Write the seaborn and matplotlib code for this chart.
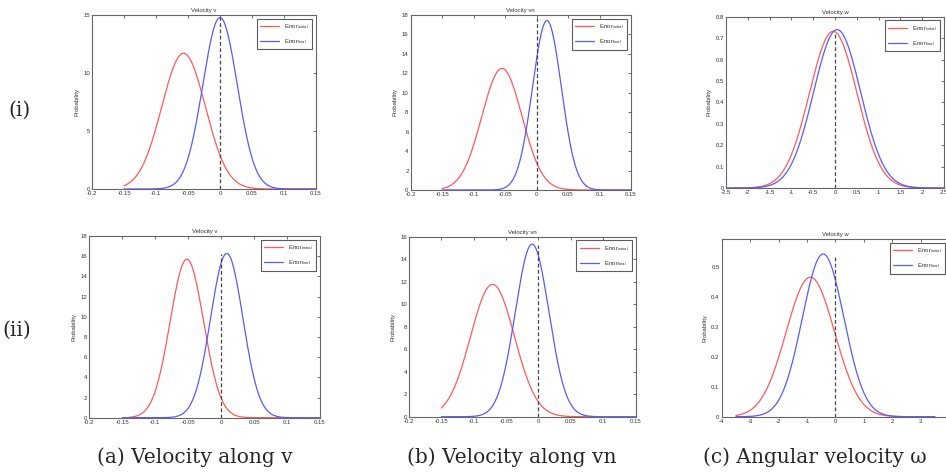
import numpy as np
import pandas as pd
import matplotlib
matplotlib.use("Agg")
import matplotlib.pyplot as plt
import seaborn as sns
from matplotlib.ticker import FuncFormatter

# Panel order: row (i) then row (ii); columns v, vn, w
titles = ["Velocity v", "Velocity vn", "Velocity w",
          "Velocity v", "Velocity vn", "Velocity w"]

# Gaussian error distributions: means and standard deviations
init_mean = [-0.057, -0.055, -0.04, -0.052, -0.071, -0.88]
init_std = [0.0341, 0.0319, 0.545, 0.0254, 0.0339, 0.854]
final_mean = [0.0, 0.0165, 0.05, 0.0085, -0.0098, -0.43]
final_std = [0.0270, 0.0229, 0.539, 0.0245, 0.0260, 0.732]

# Sampled range of each curve
init_range = [(-0.15, 0.15), (-0.15, 0.15), (-2.5, 2.5),
              (-0.14, 0.09), (-0.15, 0.08), (-3.5, 3.5)]
final_range = [(-0.15, 0.15), (-0.15, 0.15), (-2.5, 2.5),
               (-0.15, 0.15), (-0.15, 0.15), (-3.5, 3.5)]

# Height of the dashed zero-error marker
zero_line_top = [14.8, 17.7, 0.73, 16.2, 15.3, 0.54]

# Axis limits and ticks
xlims = [(-0.2, 0.15), (-0.2, 0.15), (-2.5, 2.5),
         (-0.2, 0.15), (-0.2, 0.15), (-4, 4)]
xticks = [np.arange(-0.2, 0.151, 0.05)] * 2 + [np.arange(-2.5, 2.51, 0.5)] + \
         [np.arange(-0.2, 0.151, 0.05)] * 2 + [np.arange(-4, 3.1, 1)]
ylims = [(0, 15), (0, 18), (0, 0.8), (0, 18), (0, 16), (0, 0.595)]
yticks = [[0, 5, 10, 15], np.arange(0, 18.1, 2), np.arange(0, 0.81, 0.1),
          np.arange(0, 18.1, 2), np.arange(0, 16.1, 2), np.arange(0, 0.51, 0.1)]

row_labels = ["(i)", "(ii)"]
captions = ["(a) Velocity along v", "(b) Velocity along vn", "(c) Angular velocity ω"]

# Axes rectangles in figure fraction [left, bottom, width, height]
rects = [
    [0.0973, 0.6004, 0.2368, 0.3680],
    [0.4341, 0.5983, 0.2329, 0.3700],
    [0.7674, 0.6025, 0.2304, 0.3620],
    [0.0944, 0.1169, 0.2439, 0.3841],
    [0.4323, 0.1190, 0.2396, 0.3805],
    [0.7629, 0.1190, 0.2403, 0.3757],
]

sns.set_theme(style="white")
plt.rcParams["font.family"] = ["Liberation Sans", "DejaVu Sans"]
plt.rcParams["mathtext.fontset"] = "custom"
plt.rcParams["mathtext.rm"] = "Liberation Sans"

RED = "#ff5a5a"
BLUE = "#5a5aff"
FS = 4.3


def gauss(x, mu, sd):
    return np.exp(-0.5 * ((x - mu) / sd) ** 2) / (sd * np.sqrt(2 * np.pi))


def fmt(v, _):
    s = "%g" % round(v, 4)
    return "0" if s in ("-0", "0") else s


fig = plt.figure(figsize=(9.46, 4.73), dpi=100)

for i in range(6):
    ax = fig.add_axes(rects[i])
    xi = np.linspace(*init_range[i], 400)
    xf = np.linspace(*final_range[i], 400)
    df = pd.concat([
        pd.DataFrame({"x": xi, "p": gauss(xi, init_mean[i], init_std[i]),
                      "curve": r"Error$_{\mathrm{initial}}$"}),
        pd.DataFrame({"x": xf, "p": gauss(xf, final_mean[i], final_std[i]),
                      "curve": r"Error$_{\mathrm{final}}$"}),
    ])
    sns.lineplot(data=df, x="x", y="p", hue="curve", palette=[RED, BLUE],
                 linewidth=0.9, ax=ax, sort=False)
    ax.plot([0, 0], [0, zero_line_top[i]], color="#444444", lw=0.9,
            ls=(0, (3, 2)))

    ax.set_xlim(*xlims[i])
    ax.set_ylim(*ylims[i])
    ax.set_xticks(xticks[i])
    ax.set_yticks(yticks[i])
    ax.xaxis.set_major_formatter(FuncFormatter(fmt))
    ax.yaxis.set_major_formatter(FuncFormatter(fmt))
    ax.tick_params(direction="in", length=2, width=0.6, colors="#555555",
                   labelsize=FS, labelcolor="#333333", top=True, right=True,
                   pad=1.5)
    for sp in ax.spines.values():
        sp.set_color("#666666")
        sp.set_linewidth(0.8)
    ax.set_xlabel("")
    ax.set_ylabel("Probability", fontsize=FS, color="#333333", labelpad=3)
    ax.set_title(titles[i], fontsize=FS, color="#333333", pad=2)

    leg = ax.legend(loc="upper right", fontsize=FS, frameon=True,
                    fancybox=False, handlelength=3.2, borderpad=0.6,
                    labelspacing=1.0, borderaxespad=0.6, handletextpad=0.8)
    leg.get_frame().set_edgecolor("#333333")
    leg.get_frame().set_linewidth(0.8)
    for t in leg.get_texts():
        t.set_color("#333333")

serif = ["DejaVu Serif"]
CAP = 14.5
fig.text(0.0085, 0.766, row_labels[0], fontsize=CAP, family=serif,
         ha="left", va="center")
fig.text(0.003, 0.302, row_labels[1], fontsize=CAP, family=serif,
         ha="left", va="center")
for lx, cap in zip([0.1025, 0.430, 0.743], captions):
    fig.text(lx, 0.034, cap, fontsize=CAP, family=serif, ha="left",
             va="center")

fig.savefig("out.png", dpi=100)
